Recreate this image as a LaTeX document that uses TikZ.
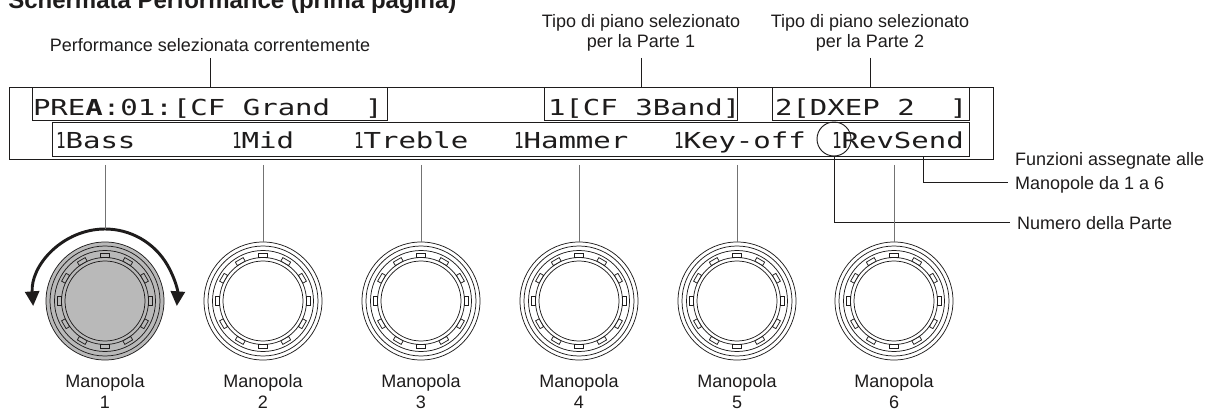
\documentclass[tikz,border=0pt]{standalone}
\usepackage{fontspec}
\setmainfont{Liberation Sans}
\newfontfamily\lcd[FakeStretch=1.32]{DejaVu Sans Mono}
\newfontfamily\lcdnarrow[FakeStretch=0.72]{DejaVu Sans Mono}
\usetikzlibrary{arrows.meta,fit}
\definecolor{knobgray}{RGB}{185,185,185}
\definecolor{ink}{RGB}{30,28,28}
\tikzset{
  lbl/.style={inner sep=0pt, outer sep=0pt, text=ink, font=\fontsize{13.5pt}{15pt}\selectfont},
  lcdtxt/.style={inner sep=0pt, outer sep=0pt, anchor=base west, text=ink, font=\lcd\fontsize{16.5pt}{18pt}\selectfont},
  lcdframe/.style={draw=ink, line width=0.75pt, inner sep=0pt, outer sep=0pt},
  ldr/.style={draw=ink, line width=0.7pt},
  kldr/.style={draw=black!55, line width=0.6pt},
  ringline/.style={draw=ink, line width=0.55pt},
  knoblbl/.style={lbl, anchor=north, align=center, font=\fontsize{13.5pt}{15.75pt}\selectfont},
}
\newcommand\smallone{{\lcdnarrow 1}}
\newcommand\knobdraw[3]{%
  \node[circle, ringline, fill=#3, minimum size=88.5pt, inner sep=0pt] (#1) at (#2,301) {};
  \begin{scope}[shift={(#2,301)}]
    \draw[ringline] (0,0) circle (55);
    \draw[ringline] (0,0) circle (50.5);
    \draw[ringline] (0,0) circle (43.5);
    \foreach \a in {0,30,...,330} {\draw[ringline, fill=#3, rotate=\a] (43.5,-4.5) rectangle (47.5,4.5);}
    \draw[ringline] (0,0) circle (40);
  \end{scope}}
\begin{document}
\begin{tikzpicture}[x=0.75pt, y=-0.75pt]
\useasboundingbox (0,0) rectangle (1215,410);
\node[anchor=base west, inner sep=0pt, text=ink, font=\bfseries\fontsize{18pt}{20pt}\selectfont] (title) at (8,9) {Schermata Performance (prima pagina)};

% display
\node[lcdframe, fit={(9,88)(993,160)}] (outer) {};
\node[lcdframe, fill=white, fit={(32,88)(387,121)}] (boxA) {};
\node[lcdframe, fill=white, fit={(544,88)(737,121)}] (boxB) {};
\node[lcdframe, fill=white, fit={(772,88)(969,121)}] (boxC) {};
\node[lcdframe, fill=white, fit={(52,123)(969,157)}] (row2) {};

\node[lcdtxt] (tA) at (33,116) {PRE{\bfseries A}:01:[CF Grand~~]};
\node[lcdtxt] (tB) at (548,116) {1[CF 3Band]};
\node[lcdtxt] (tC) at (775,116) {2[DXEP 2~~]};

\node[lcdtxt] (f1) at (56,148) {\smallone Bass};
\node[lcdtxt] (f2) at (232,148) {\smallone Mid};
\node[lcdtxt] (f3) at (354,148) {\smallone Treble};
\node[lcdtxt] (f4) at (514,148) {\smallone Hammer};
\node[lcdtxt] (f5) at (674,148) {\smallone Key-off};
\node[lcdtxt] (f6) at (832,148) {\smallone RevSend};

\node[circle, draw=ink, line width=0.7pt, minimum size=25.5pt, inner sep=0pt] (numc) at (834,139) {};

% labels
\node[lbl, anchor=base] (perf) at (210,52) {Performance selezionata correntemente};
\node[lbl, anchor=north, align=center] (tipo1) at (641,14) {Tipo di piano selezionato\\per la Parte 1};
\node[lbl, anchor=north, align=center] (tipo2) at (870,14) {Tipo di piano selezionato\\per la Parte 2};
\node[lbl, anchor=north west, align=left, font=\fontsize{13.5pt}{18pt}\selectfont] (funz) at (1015,152) {Funzioni assegnate alle\\Manopole da 1 a 6};
\node[lbl, anchor=base west] (numero) at (1017,229) {Numero della Parte};

% leaders
\draw[ldr] ([shift={(0,6)}]perf.south) -- (perf.south |- boxA.north);
\draw[ldr] ([shift={(0,7)}]tipo1.south) -- (tipo1.south |- boxB.north);
\draw[ldr] ([shift={(0,7)}]tipo2.south) -- (tipo2.south |- boxC.north);
\coordinate (fk) at (923,157);
\draw[ldr] (fk) |- ([shift={(-7,-10.5)}]funz.south west);
\draw[ldr] (numc.south) |- ([shift={(-7,0)}]numero.west);

% knobs
\knobdraw{k1}{105}{knobgray}
\knobdraw{k2}{263}{white}
\knobdraw{k3}{421}{white}
\knobdraw{k4}{579}{white}
\knobdraw{k5}{737}{white}
\knobdraw{k6}{894}{white}

\draw[line width=2.2pt, draw=ink, {Triangle[width=10.5pt,length=11pt]}-{Triangle[width=10.5pt,length=11pt]}] ([shift={(176:72)}]k1.center) arc (176:364:72);

\draw[kldr] ([shift={(0,5)}]k1.center |- outer.south) -- ([shift={(0,-72)}]k1.center);
\foreach \k in {k2,k3,k4,k5,k6} {\draw[kldr] ([shift={(0,5)}]\k.north |- outer.south) -- (\k.north);}

\node[knoblbl] (m1) at (105,374) {Manopola\\1};
\node[knoblbl] (m2) at (263,374) {Manopola\\2};
\node[knoblbl] (m3) at (421,374) {Manopola\\3};
\node[knoblbl] (m4) at (579,374) {Manopola\\4};
\node[knoblbl] (m5) at (737,374) {Manopola\\5};
\node[knoblbl] (m6) at (894,374) {Manopola\\6};
\end{tikzpicture}
\end{document}
